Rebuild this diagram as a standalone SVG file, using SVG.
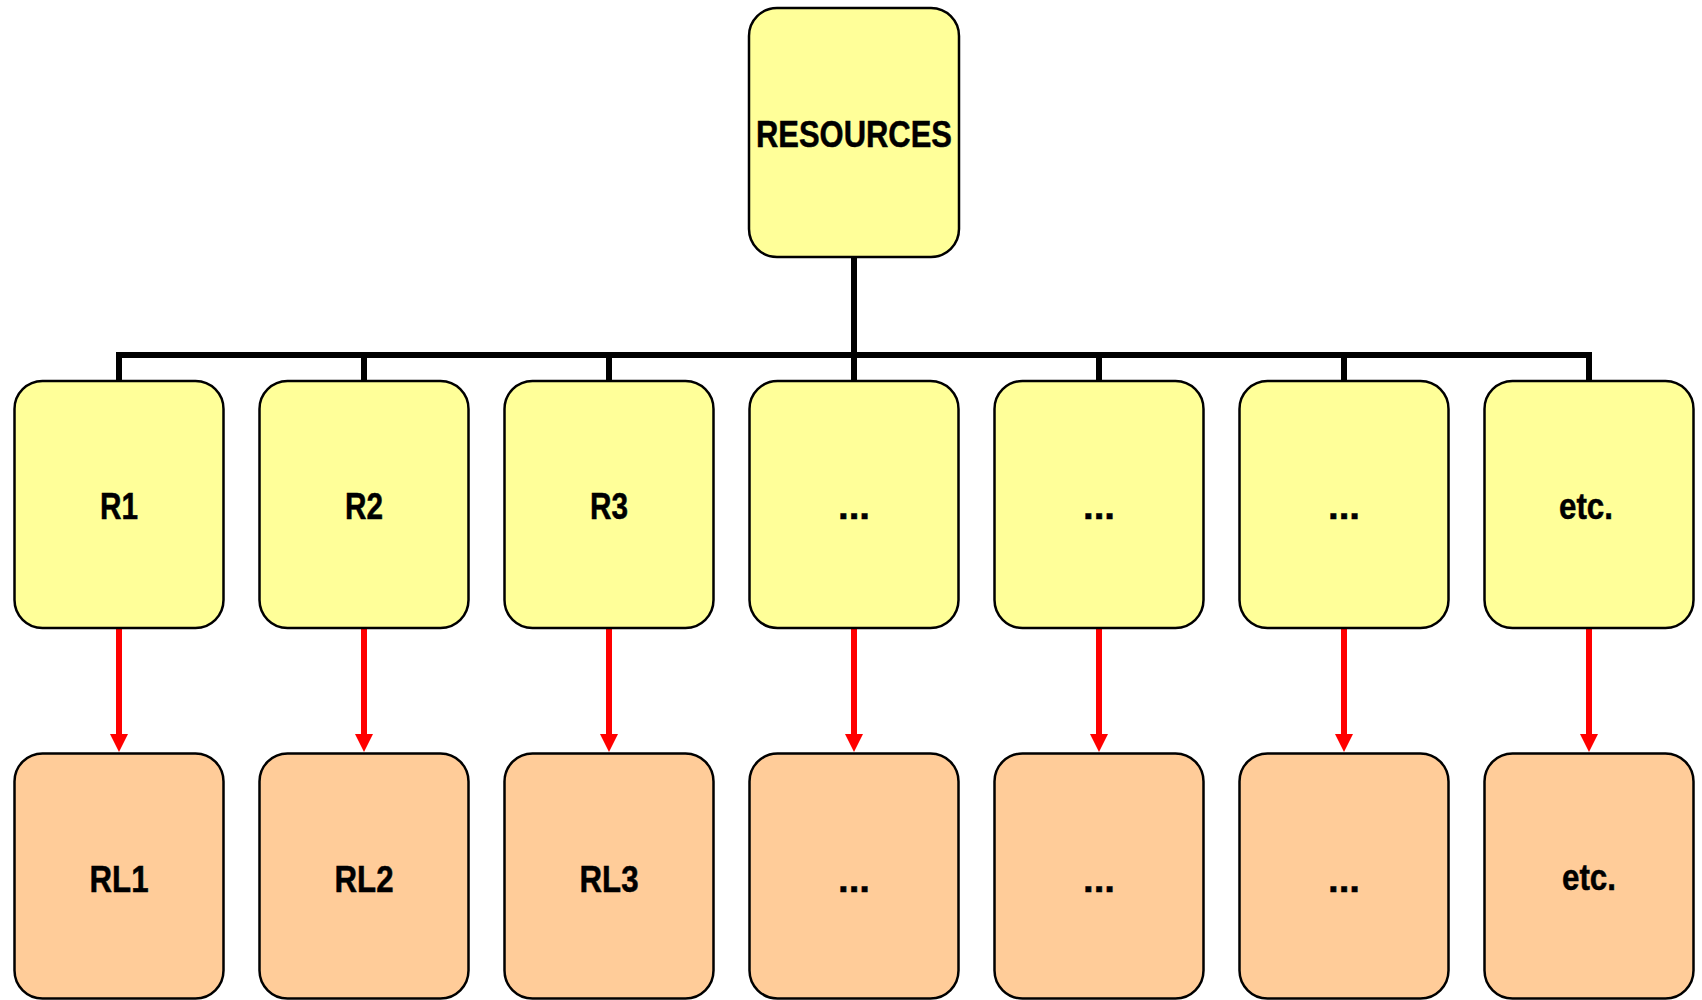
<svg xmlns="http://www.w3.org/2000/svg" width="1702" height="1000" viewBox="0 0 1702 1000">
  <style>
    .box { stroke: #000; stroke-width: 2.5; }
    .res { fill: #FFFF99; }
    .loc { fill: #FFCC99; }
    .lbl { font-family: "Liberation Sans", Arial, sans-serif; font-weight: bold; fill: #000; stroke: #000; stroke-width: 0.5; text-anchor: middle; }
    .top { font-size: 36px; }
    .bot { font-size: 37px; }
    .tree { fill: none; stroke: #000; stroke-width: 6; stroke-linejoin: miter; }
    .arrow { stroke: #FF0000; stroke-width: 6; marker-end: url(#head); }
  </style>
  <defs>
    <marker id="head" markerUnits="userSpaceOnUse" markerWidth="18" markerHeight="18" refX="6" refY="9" orient="auto">
      <path d="M0,0 L18,9 L0,18 Z" fill="#FF0000"/>
    </marker>
  </defs>

  <!-- connectors -->
  <g id="connectors">
    <path class="tree" d="M854,257 V355 M119,381 V355 H1589 V381 M364,355 V381 M609,355 V381 M854,355 V381 M1099,355 V381 M1344,355 V381"/>
    <line class="arrow" x1="119" y1="629" x2="119" y2="740"/>
    <line class="arrow" x1="364" y1="629" x2="364" y2="740"/>
    <line class="arrow" x1="609" y1="629" x2="609" y2="740"/>
    <line class="arrow" x1="854" y1="629" x2="854" y2="740"/>
    <line class="arrow" x1="1099" y1="629" x2="1099" y2="740"/>
    <line class="arrow" x1="1344" y1="629" x2="1344" y2="740"/>
    <line class="arrow" x1="1589" y1="629" x2="1589" y2="740"/>
  </g>

  <!-- root -->
  <g id="resources">
    <rect class="box res" x="749" y="8" width="210" height="249" rx="28"/>
    <text class="lbl bot" x="854" y="147" textLength="196" lengthAdjust="spacingAndGlyphs">RESOURCES</text>
  </g>

  <!-- resource row -->
  <g id="r1">
    <rect class="box res" x="14.5" y="381" width="209" height="247" rx="28"/>
    <text class="lbl top" x="119" y="518.5" textLength="38" lengthAdjust="spacingAndGlyphs">R1</text>
  </g>
  <g id="r2">
    <rect class="box res" x="259.5" y="381" width="209" height="247" rx="28"/>
    <text class="lbl top" x="364" y="518.5" textLength="38" lengthAdjust="spacingAndGlyphs">R2</text>
  </g>
  <g id="r3">
    <rect class="box res" x="504.5" y="381" width="209" height="247" rx="28"/>
    <text class="lbl top" x="609" y="518.5" textLength="38" lengthAdjust="spacingAndGlyphs">R3</text>
  </g>
  <g id="r4">
    <rect class="box res" x="749.5" y="381" width="209" height="247" rx="28"/>
    <text class="lbl top" x="854" y="519" textLength="32" lengthAdjust="spacingAndGlyphs">...</text>
  </g>
  <g id="r5">
    <rect class="box res" x="994.5" y="381" width="209" height="247" rx="28"/>
    <text class="lbl top" x="1099" y="519" textLength="32" lengthAdjust="spacingAndGlyphs">...</text>
  </g>
  <g id="r6">
    <rect class="box res" x="1239.5" y="381" width="209" height="247" rx="28"/>
    <text class="lbl top" x="1344" y="519" textLength="32" lengthAdjust="spacingAndGlyphs">...</text>
  </g>
  <g id="r7">
    <rect class="box res" x="1484.5" y="381" width="209" height="247" rx="28"/>
    <text class="lbl top" x="1586" y="518.5" textLength="54" lengthAdjust="spacingAndGlyphs">etc.</text>
  </g>

  <!-- location row -->
  <g id="rl1">
    <rect class="box loc" x="14.5" y="753.5" width="209" height="245" rx="28"/>
    <text class="lbl bot" x="119" y="891.5" textLength="59" lengthAdjust="spacingAndGlyphs">RL1</text>
  </g>
  <g id="rl2">
    <rect class="box loc" x="259.5" y="753.5" width="209" height="245" rx="28"/>
    <text class="lbl bot" x="364" y="891.5" textLength="59" lengthAdjust="spacingAndGlyphs">RL2</text>
  </g>
  <g id="rl3">
    <rect class="box loc" x="504.5" y="753.5" width="209" height="245" rx="28"/>
    <text class="lbl bot" x="609" y="891.5" textLength="59" lengthAdjust="spacingAndGlyphs">RL3</text>
  </g>
  <g id="rl4">
    <rect class="box loc" x="749.5" y="753.5" width="209" height="245" rx="28"/>
    <text class="lbl bot" x="854" y="892" textLength="32" lengthAdjust="spacingAndGlyphs">...</text>
  </g>
  <g id="rl5">
    <rect class="box loc" x="994.5" y="753.5" width="209" height="245" rx="28"/>
    <text class="lbl bot" x="1099" y="892" textLength="32" lengthAdjust="spacingAndGlyphs">...</text>
  </g>
  <g id="rl6">
    <rect class="box loc" x="1239.5" y="753.5" width="209" height="245" rx="28"/>
    <text class="lbl bot" x="1344" y="892" textLength="32" lengthAdjust="spacingAndGlyphs">...</text>
  </g>
  <g id="rl7">
    <rect class="box loc" x="1484.5" y="753.5" width="209" height="245" rx="28"/>
    <text class="lbl bot" x="1589" y="890" textLength="54" lengthAdjust="spacingAndGlyphs">etc.</text>
  </g>
</svg>
